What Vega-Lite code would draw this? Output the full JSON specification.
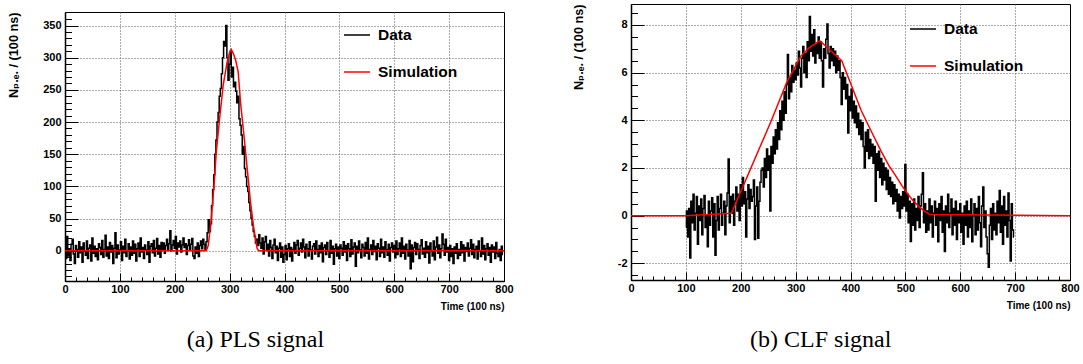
{
  "$schema": "https://vega.github.io/schema/vega-lite/v6.json",
  "background": "white",
  "padding": {"left": 7, "top": 3, "right": 0, "bottom": 0},
  "spacing": 57,
  "config": {
    "view": {"stroke": "black", "strokeWidth": 1},
    "axis": {
      "labelFont": "Liberation Sans", "labelFontSize": 11, "labelFontWeight": "bold", "labelColor": "black",
      "labelFlush": false, "labelOverlap": false, "tickCount": 1000,
      "tickColor": "black", "tickWidth": 1,
      "domainColor": "black", "domainWidth": 1.5,
      "gridColor": "#555555", "gridDash": [1, 2], "gridWidth": 1,
      "titleFont": "Liberation Sans, DejaVu Sans", "titleFontWeight": "bold", "titleColor": "black"
    },
    "legend": {
      "orient": "none", "title": null, "symbolType": "stroke", "symbolSize": 676, "symbolStrokeWidth": 1.5,
      "labelFont": "Liberation Sans", "labelFontSize": 15.5, "labelFontWeight": "bold", "labelColor": "black",
      "labelOffset": 7, "rowPadding": 14, "padding": 0
    },
    "title": {"font": "Liberation Serif", "fontSize": 24, "fontWeight": "normal", "color": "black", "orient": "bottom", "anchor": "middle", "frame": "bounds", "offset": 17, "dx": -5}
  },
  "resolve": {"scale": {"color": "independent"}, "legend": {"color": "independent"}},
  "datasets": {
    "pls_data": [
      {"t":0,"n":5},{"t":2,"n":-12},{"t":4,"n":22},{"t":6,"n":-8},{"t":8,"n":3},{"t":10,"n":-15},{"t":12,"n":10},{"t":14,"n":18},{"t":16,"n":-5},{"t":18,"n":-20},
      {"t":20,"n":8},{"t":22,"n":2},{"t":24,"n":-10},{"t":26,"n":14},{"t":28,"n":-3},{"t":30,"n":6},{"t":32,"n":-18},{"t":34,"n":12},{"t":36,"n":0},{"t":38,"n":-7},
      {"t":40,"n":15},{"t":42,"n":-12},{"t":44,"n":4},{"t":46,"n":9},{"t":48,"n":-16},{"t":50,"n":20},{"t":52,"n":-4},{"t":54,"n":7},{"t":56,"n":-9},{"t":58,"n":3},
      {"t":60,"n":-14},{"t":62,"n":11},{"t":64,"n":5},{"t":66,"n":-6},{"t":68,"n":16},{"t":70,"n":-10},{"t":72,"n":2},{"t":74,"n":24},{"t":76,"n":-8},{"t":78,"n":6},
      {"t":80,"n":-12},{"t":82,"n":13},{"t":84,"n":-2},{"t":86,"n":8},{"t":88,"n":-20},{"t":90,"n":4},{"t":92,"n":28},{"t":94,"n":-11},{"t":96,"n":9},{"t":98,"n":-5},
      {"t":100,"n":1},{"t":102,"n":14},{"t":104,"n":-15},{"t":106,"n":7},{"t":108,"n":-3},{"t":110,"n":18},{"t":112,"n":-9},{"t":114,"n":0},{"t":116,"n":11},{"t":118,"n":-13},
      {"t":120,"n":6},{"t":122,"n":-7},{"t":124,"n":15},{"t":126,"n":-4},{"t":128,"n":10},{"t":130,"n":-16},{"t":132,"n":3},{"t":134,"n":12},{"t":136,"n":-9},{"t":138,"n":20},
      {"t":140,"n":-2},{"t":142,"n":5},{"t":144,"n":-12},{"t":146,"n":9},{"t":148,"n":1},{"t":150,"n":-6},{"t":152,"n":14},{"t":154,"n":-18},{"t":156,"n":7},{"t":158,"n":11},
      {"t":160,"n":-3},{"t":162,"n":16},{"t":164,"n":-8},{"t":166,"n":4},{"t":168,"n":19},{"t":170,"n":-5},{"t":172,"n":8},{"t":174,"n":-10},{"t":176,"n":13},{"t":178,"n":2},
      {"t":180,"n":12},{"t":182,"n":-4},{"t":184,"n":8},{"t":186,"n":18},{"t":188,"n":2},{"t":190,"n":11},{"t":192,"n":31},{"t":194,"n":0},{"t":196,"n":9},{"t":198,"n":16},
      {"t":200,"n":4},{"t":202,"n":22},{"t":204,"n":-5},{"t":206,"n":12},{"t":208,"n":6},{"t":210,"n":15},{"t":212,"n":-2},{"t":214,"n":9},{"t":216,"n":20},{"t":218,"n":5},
      {"t":220,"n":11},{"t":222,"n":-6},{"t":224,"n":8},{"t":226,"n":17},{"t":228,"n":2},{"t":230,"n":10},{"t":232,"n":19},{"t":234,"n":-8},{"t":236,"n":-12},{"t":238,"n":6},
      {"t":240,"n":-4},{"t":242,"n":12},{"t":244,"n":-9},{"t":246,"n":8},{"t":248,"n":15},{"t":250,"n":3},{"t":252,"n":18},{"t":254,"n":10},{"t":256,"n":2},{"t":258,"n":14},
      {"t":260,"n":28},{"t":262,"n":48},{"t":264,"n":30},{"t":266,"n":42},{"t":268,"n":70},{"t":270,"n":95},{"t":272,"n":118},{"t":274,"n":150},{"t":276,"n":172},{"t":278,"n":200},
      {"t":280,"n":215},{"t":282,"n":240},{"t":284,"n":252},{"t":286,"n":275},{"t":288,"n":300},{"t":290,"n":325},{"t":292,"n":318},{"t":294,"n":350},{"t":296,"n":300},{"t":298,"n":265},
      {"t":300,"n":290},{"t":302,"n":310},{"t":304,"n":270},{"t":306,"n":285},{"t":308,"n":255},{"t":310,"n":262},{"t":312,"n":248},{"t":314,"n":230},{"t":316,"n":240},{"t":318,"n":205},
      {"t":320,"n":195},{"t":322,"n":180},{"t":324,"n":150},{"t":326,"n":162},{"t":328,"n":128},{"t":330,"n":115},{"t":332,"n":100},{"t":334,"n":92},{"t":336,"n":75},{"t":338,"n":62},
      {"t":340,"n":50},{"t":342,"n":40},{"t":344,"n":30},{"t":346,"n":22},{"t":348,"n":12},{"t":350,"n":18},{"t":352,"n":8},{"t":354,"n":25},{"t":356,"n":12},{"t":358,"n":4},
      {"t":360,"n":20},{"t":362,"n":-5},{"t":364,"n":14},{"t":366,"n":22},{"t":368,"n":2},{"t":370,"n":10},{"t":372,"n":-8},{"t":374,"n":16},{"t":376,"n":5},{"t":378,"n":-12},
      {"t":380,"n":9},{"t":382,"n":18},{"t":384,"n":-3},{"t":386,"n":7},{"t":388,"n":-15},{"t":390,"n":4},{"t":392,"n":12},{"t":394,"n":-10},{"t":396,"n":6},{"t":398,"n":-18},
      {"t":400,"n":-6},{"t":402,"n":8},{"t":404,"n":-14},{"t":406,"n":3},{"t":408,"n":11},{"t":410,"n":-9},{"t":412,"n":5},{"t":414,"n":-16},{"t":416,"n":2},{"t":418,"n":13},
      {"t":420,"n":-4},{"t":422,"n":9},{"t":424,"n":16},{"t":426,"n":-7},{"t":428,"n":4},{"t":430,"n":12},{"t":432,"n":-2},{"t":434,"n":18},{"t":436,"n":6},{"t":438,"n":-11},
      {"t":440,"n":10},{"t":442,"n":3},{"t":444,"n":-8},{"t":446,"n":14},{"t":448,"n":1},{"t":450,"n":-13},{"t":452,"n":7},{"t":454,"n":11},{"t":456,"n":-5},{"t":458,"n":15},
      {"t":460,"n":2},{"t":462,"n":-9},{"t":464,"n":8},{"t":466,"n":-3},{"t":468,"n":12},{"t":470,"n":-17},{"t":472,"n":5},{"t":474,"n":9},{"t":476,"n":-6},{"t":478,"n":13},
      {"t":480,"n":0},{"t":482,"n":-10},{"t":484,"n":16},{"t":486,"n":-4},{"t":488,"n":7},{"t":490,"n":-21},{"t":492,"n":3},{"t":494,"n":10},{"t":496,"n":-8},{"t":498,"n":6},
      {"t":500,"n":-12},{"t":502,"n":9},{"t":504,"n":4},{"t":506,"n":-7},{"t":508,"n":14},{"t":510,"n":-2},{"t":512,"n":8},{"t":514,"n":-15},{"t":516,"n":11},{"t":518,"n":3},
      {"t":520,"n":-9},{"t":522,"n":17},{"t":524,"n":-5},{"t":526,"n":6},{"t":528,"n":12},{"t":530,"n":-24},{"t":532,"n":7},{"t":534,"n":-3},{"t":536,"n":15},{"t":538,"n":1},
      {"t":540,"n":-11},{"t":542,"n":10},{"t":544,"n":5},{"t":546,"n":-8},{"t":548,"n":13},{"t":550,"n":-4},{"t":552,"n":20},{"t":554,"n":-13},{"t":556,"n":2},{"t":558,"n":9},
      {"t":560,"n":-6},{"t":562,"n":16},{"t":564,"n":-1},{"t":566,"n":7},{"t":568,"n":-14},{"t":570,"n":11},{"t":572,"n":4},{"t":574,"n":-9},{"t":576,"n":18},{"t":578,"n":-3},
      {"t":580,"n":6},{"t":582,"n":-10},{"t":584,"n":14},{"t":586,"n":2},{"t":588,"n":-7},{"t":590,"n":10},{"t":592,"n":-16},{"t":594,"n":5},{"t":596,"n":12},{"t":598,"n":-2},
      {"t":600,"n":8},{"t":602,"n":-11},{"t":604,"n":15},{"t":606,"n":-6},{"t":608,"n":3},{"t":610,"n":12},{"t":612,"n":-9},{"t":614,"n":20},{"t":616,"n":-4},{"t":618,"n":7},
      {"t":620,"n":-13},{"t":622,"n":10},{"t":624,"n":1},{"t":626,"n":-8},{"t":628,"n":16},{"t":630,"n":-28},{"t":632,"n":9},{"t":634,"n":-17},{"t":636,"n":5},{"t":638,"n":13},
      {"t":640,"n":-6},{"t":642,"n":11},{"t":644,"n":2},{"t":646,"n":-12},{"t":648,"n":8},{"t":650,"n":17},{"t":652,"n":-5},{"t":654,"n":4},{"t":656,"n":-10},{"t":658,"n":14},
      {"t":660,"n":-3},{"t":662,"n":7},{"t":664,"n":-19},{"t":666,"n":12},{"t":668,"n":0},{"t":670,"n":-8},{"t":672,"n":15},{"t":674,"n":-14},{"t":676,"n":6},{"t":678,"n":21},
      {"t":680,"n":-4},{"t":682,"n":9},{"t":684,"n":-11},{"t":686,"n":3},{"t":688,"n":26},{"t":690,"n":10},{"t":692,"n":-7},{"t":694,"n":18},{"t":696,"n":-2},{"t":698,"n":5},
      {"t":700,"n":-15},{"t":702,"n":8},{"t":704,"n":-9},{"t":706,"n":3},{"t":708,"n":-20},{"t":710,"n":6},{"t":712,"n":-4},{"t":714,"n":11},{"t":716,"n":-12},{"t":718,"n":2},
      {"t":720,"n":-7},{"t":722,"n":14},{"t":724,"n":-3},{"t":726,"n":9},{"t":728,"n":-16},{"t":730,"n":5},{"t":732,"n":-1},{"t":734,"n":12},{"t":736,"n":-8},{"t":738,"n":4},
      {"t":740,"n":17},{"t":742,"n":-6},{"t":744,"n":10},{"t":746,"n":-11},{"t":748,"n":2},{"t":750,"n":7},{"t":752,"n":-13},{"t":754,"n":15},{"t":756,"n":0},{"t":758,"n":-9},
      {"t":760,"n":20},{"t":762,"n":-5},{"t":764,"n":8},{"t":766,"n":-14},{"t":768,"n":3},{"t":770,"n":11},{"t":772,"n":-7},{"t":774,"n":5},{"t":776,"n":-18},{"t":778,"n":9},
      {"t":780,"n":-2},{"t":782,"n":6},{"t":784,"n":-12},{"t":786,"n":13},{"t":788,"n":-4},{"t":790,"n":-9},{"t":792,"n":2},{"t":794,"n":-15},{"t":796,"n":7},{"t":798,"n":-6}
    ],
    "pls_sim": [
      {"t":0,"n":0},{"t":256,"n":0},{"t":258,"n":1},{"t":261,"n":8},{"t":264,"n":30},{"t":266.6,"n":50},{"t":271.5,"n":101},{"t":275.7,"n":154},{"t":281.8,"n":206},{"t":288.4,"n":258},
      {"t":295.6,"n":294},{"t":300,"n":308},{"t":303,"n":313},{"t":307,"n":306},{"t":311,"n":296},{"t":315.6,"n":278},{"t":319.8,"n":231},{"t":326,"n":180},{"t":332,"n":128},{"t":338,"n":76},
      {"t":344,"n":35},{"t":350,"n":4},{"t":353,"n":0},{"t":800,"n":0}
    ],
    "clf_data": [
      {"t":100,"n":-0.5},{"t":102,"n":0.2},{"t":104,"n":-0.9},{"t":106,"n":0.3},{"t":108,"n":-1.78},{"t":110,"n":0.6},{"t":112,"n":-0.3},{"t":114,"n":0.9},{"t":116,"n":-0.6},{"t":118,"n":0.1},
      {"t":120,"n":0.8},{"t":122,"n":-1.2},{"t":124,"n":0.4},{"t":126,"n":-0.2},{"t":128,"n":0.7},{"t":130,"n":-0.8},{"t":132,"n":0.3},{"t":134,"n":0.85},{"t":136,"n":-0.5},{"t":138,"n":0.0},
      {"t":140,"n":-1.3},{"t":142,"n":0.6},{"t":144,"n":-0.4},{"t":146,"n":0.2},{"t":148,"n":0.75},{"t":150,"n":-0.9},{"t":152,"n":0.5},{"t":154,"n":-1.66},{"t":156,"n":-0.2},{"t":158,"n":0.8},
      {"t":160,"n":-0.6},{"t":162,"n":0.3},{"t":164,"n":0.9},{"t":166,"n":-0.4},{"t":168,"n":0.1},{"t":170,"n":0.6},{"t":172,"n":-0.8},{"t":174,"n":0.4},{"t":176,"n":0.95},{"t":178,"n":2.38},
      {"t":180,"n":-0.3},{"t":182,"n":0.8},{"t":184,"n":0.1},{"t":186,"n":0.9},{"t":188,"n":-0.4},{"t":190,"n":0.6},{"t":192,"n":1.2},{"t":194,"n":0.2},{"t":196,"n":0.9},{"t":198,"n":-0.2},
      {"t":200,"n":1.3},{"t":202,"n":0.4},{"t":204,"n":1.6},{"t":206,"n":0.5},{"t":208,"n":1.0},{"t":210,"n":-0.9},{"t":212,"n":0.7},{"t":214,"n":1.3},{"t":216,"n":0.3},{"t":218,"n":1.1},
      {"t":220,"n":0.6},{"t":222,"n":0.8},{"t":224,"n":1.5},{"t":226,"n":-1.0},{"t":228,"n":0.4},{"t":230,"n":1.2},{"t":232,"n":-0.95},{"t":234,"n":0.6},{"t":236,"n":1.4},{"t":238,"n":1.9},
      {"t":240,"n":2.0},{"t":242,"n":1.2},{"t":244,"n":2.4},{"t":246,"n":1.6},{"t":248,"n":2.8},{"t":250,"n":1.9},{"t":252,"n":2.5},{"t":254,"n":0.2},{"t":256,"n":2.9},{"t":258,"n":2.2},
      {"t":260,"n":3.3},{"t":262,"n":2.6},{"t":264,"n":3.6},{"t":266,"n":2.8},{"t":268,"n":3.9},{"t":270,"n":3.2},{"t":272,"n":4.4},{"t":274,"n":3.6},{"t":276,"n":4.8},{"t":278,"n":4.0},
      {"t":280,"n":5.2},{"t":282,"n":4.3},{"t":284,"n":5.5},{"t":286,"n":6.76},{"t":288,"n":4.9},{"t":290,"n":5.8},{"t":292,"n":5.2},{"t":294,"n":6.3},{"t":296,"n":5.6},{"t":298,"n":6.1},
      {"t":300,"n":5.7},{"t":302,"n":6.4},{"t":304,"n":5.9},{"t":306,"n":6.9},{"t":308,"n":6.2},{"t":310,"n":5.4},{"t":312,"n":6.6},{"t":314,"n":7.1},{"t":316,"n":6.0},{"t":318,"n":6.8},
      {"t":320,"n":5.8},{"t":322,"n":7.3},{"t":324,"n":6.5},{"t":326,"n":8.36},{"t":328,"n":6.9},{"t":330,"n":7.6},{"t":332,"n":6.7},{"t":334,"n":7.8},{"t":336,"n":6.4},{"t":338,"n":7.2},
      {"t":340,"n":6.8},{"t":342,"n":7.5},{"t":344,"n":6.6},{"t":346,"n":7.3},{"t":348,"n":6.5},{"t":350,"n":5.4},{"t":352,"n":7.0},{"t":354,"n":6.6},{"t":356,"n":7.4},{"t":358,"n":8.04},
      {"t":360,"n":6.8},{"t":362,"n":6.2},{"t":364,"n":7.1},{"t":366,"n":6.5},{"t":368,"n":7.0},{"t":370,"n":6.3},{"t":372,"n":6.9},{"t":374,"n":6.0},{"t":376,"n":6.7},{"t":378,"n":6.1},
      {"t":380,"n":6.5},{"t":382,"n":5.8},{"t":384,"n":4.66},{"t":386,"n":6.0},{"t":388,"n":5.3},{"t":390,"n":5.8},{"t":392,"n":4.9},{"t":394,"n":5.5},{"t":396,"n":3.47},{"t":398,"n":5.0},
      {"t":400,"n":4.4},{"t":402,"n":5.3},{"t":404,"n":4.1},{"t":406,"n":4.8},{"t":408,"n":3.9},{"t":410,"n":4.6},{"t":412,"n":3.7},{"t":414,"n":4.3},{"t":416,"n":3.4},{"t":418,"n":4.0},
      {"t":420,"n":3.2},{"t":422,"n":3.9},{"t":424,"n":2.9},{"t":426,"n":2.0},{"t":428,"n":3.5},{"t":430,"n":2.7},{"t":432,"n":3.6},{"t":434,"n":2.4},{"t":436,"n":3.2},{"t":438,"n":2.5},
      {"t":440,"n":3.0},{"t":442,"n":2.2},{"t":444,"n":2.9},{"t":446,"n":0.6},{"t":448,"n":2.6},{"t":450,"n":1.9},{"t":452,"n":2.7},{"t":454,"n":1.6},{"t":456,"n":2.4},{"t":458,"n":1.3},
      {"t":460,"n":2.2},{"t":462,"n":1.5},{"t":464,"n":2.0},{"t":466,"n":1.1},{"t":468,"n":1.9},{"t":470,"n":0.9},{"t":472,"n":1.6},{"t":474,"n":0.8},{"t":476,"n":1.4},{"t":478,"n":0.5},
      {"t":480,"n":1.3},{"t":482,"n":0.6},{"t":484,"n":1.1},{"t":486,"n":0.2},{"t":488,"n":0.9},{"t":490,"n":-0.1},{"t":492,"n":0.8},{"t":494,"n":0.3},{"t":496,"n":1.0},{"t":498,"n":0.4},
      {"t":500,"n":2.15},{"t":502,"n":0.2},{"t":504,"n":0.9},{"t":506,"n":-0.3},{"t":508,"n":0.6},{"t":510,"n":-1.08},{"t":512,"n":0.5},{"t":514,"n":-0.4},{"t":516,"n":0.7},{"t":518,"n":-0.6},
      {"t":520,"n":0.3},{"t":522,"n":-0.2},{"t":524,"n":0.8},{"t":526,"n":-0.5},{"t":528,"n":0.4},{"t":530,"n":0.9},{"t":532,"n":1.8},{"t":534,"n":-0.3},{"t":536,"n":0.5},{"t":538,"n":-0.7},
      {"t":540,"n":0.2},{"t":542,"n":-0.6},{"t":544,"n":0.7},{"t":546,"n":-0.3},{"t":548,"n":0.4},{"t":550,"n":-0.9},{"t":552,"n":0.1},{"t":554,"n":0.6},{"t":556,"n":-0.4},{"t":558,"n":0.3},
      {"t":560,"n":-1.1},{"t":562,"n":0.5},{"t":564,"n":-0.2},{"t":566,"n":0.8},{"t":568,"n":-0.7},{"t":570,"n":0.2},{"t":572,"n":-1.5},{"t":574,"n":0.4},{"t":576,"n":-0.3},{"t":578,"n":0.9},
      {"t":580,"n":-0.5},{"t":582,"n":0.1},{"t":584,"n":0.7},{"t":586,"n":-0.8},{"t":588,"n":0.3},{"t":590,"n":-0.4},{"t":592,"n":0.6},{"t":594,"n":-1.0},{"t":596,"n":0.2},{"t":598,"n":-0.3},
      {"t":600,"n":0.5},{"t":602,"n":-0.7},{"t":604,"n":0.1},{"t":606,"n":-1.2},{"t":608,"n":0.4},{"t":610,"n":-0.4},{"t":612,"n":0.6},{"t":614,"n":-0.9},{"t":616,"n":0.2},{"t":618,"n":-0.5},
      {"t":620,"n":0.7},{"t":622,"n":-1.1},{"t":624,"n":0.0},{"t":626,"n":0.5},{"t":628,"n":-0.8},{"t":630,"n":0.3},{"t":632,"n":-0.6},{"t":634,"n":0.8},{"t":636,"n":-0.3},{"t":638,"n":-1.3},
      {"t":640,"n":0.4},{"t":642,"n":1.2},{"t":644,"n":-0.5},{"t":646,"n":0.2},{"t":648,"n":-0.9},{"t":650,"n":-1.6},{"t":652,"n":-2.17},{"t":654,"n":-0.4},{"t":656,"n":0.3},{"t":658,"n":-1.0},
      {"t":660,"n":0.5},{"t":662,"n":-0.6},{"t":664,"n":0.1},{"t":666,"n":-0.8},{"t":668,"n":0.6},{"t":670,"n":-0.3},{"t":672,"n":1.05},{"t":674,"n":-0.7},{"t":676,"n":0.4},{"t":678,"n":-1.2},
      {"t":680,"n":0.8},{"t":682,"n":-0.4},{"t":684,"n":0.2},{"t":686,"n":-0.9},{"t":688,"n":0.95},{"t":690,"n":-0.2},{"t":692,"n":-1.9},{"t":694,"n":0.5},{"t":696,"n":-0.6},{"t":698,"n":-0.9}
    ],
    "clf_sim": [
      {"t":0,"n":0},{"t":100,"n":0},{"t":183,"n":0.1},{"t":256,"n":4.0},{"t":284,"n":5.6},{"t":298,"n":6.2},{"t":310,"n":6.7},{"t":325,"n":7.05},{"t":344,"n":7.34},{"t":365,"n":6.9},
      {"t":384,"n":6.5},{"t":401,"n":5.5},{"t":419.5,"n":4.41},{"t":437.8,"n":3.54},{"t":456,"n":2.7},{"t":470,"n":2.1},{"t":481,"n":1.72},{"t":494,"n":1.25},{"t":505,"n":0.89},{"t":515,"n":0.6},
      {"t":524,"n":0.4},{"t":535,"n":0.18},{"t":545,"n":0.05},{"t":800,"n":0}
    ]
  },
  "hconcat": [
    {
      "spacing": 6,
      "resolve": {"scale": {"color": "independent"}, "legend": {"color": "independent"}},
      "vconcat": [
        {
          "width": 439,
          "height": 1,
          "view": {"stroke": null},
          "data": {"values": []},
          "mark": {"type": "point", "opacity": 0}
        },
        {
          "width": 439,
          "height": 269,
          "title": {"text": "(a) PLS signal"},
          "layer": [
            {
              "data": {"name": "pls_data"},
              "mark": {"type": "line", "interpolate": "step", "strokeWidth": 1.5, "clip": true},
              "encoding": {
                "x": {
                  "field": "t", "type": "quantitative",
                  "scale": {"domain": [0, 800], "nice": false, "zero": false},
                  "axis": {
                    "title": "Time (100 ns)", "titleAnchor": "end", "titleAlign": "right", "titleFontSize": 10, "titlePadding": 3,
                    "values": [0,20,40,60,80,100,120,140,160,180,200,220,240,260,280,300,320,340,360,380,400,420,440,460,480,500,520,540,560,580,600,620,640,660,680,700,720,740,760,780,800],
                    "labelExpr": "datum.value % 100 === 0 ? '' + datum.value : ''",
                    "labelPadding": 10,
                    "tickSize": {"condition": {"test": "datum.value % 100 === 0", "value": -8}, "value": -4},
                    "grid": true,
                    "gridOpacity": {"condition": {"test": "datum.value % 100 === 0 && datum.value > 0 && datum.value < 800", "value": 1}, "value": 0}
                  }
                },
                "y": {
                  "field": "n", "type": "quantitative",
                  "scale": {"domain": [-47, 371], "nice": false, "zero": false},
                  "axis": {
                    "title": "Nₚ.ₑ. / (100 ns)", "titleAnchor": "end", "titleFontSize": 12.7, "titlePadding": 22,
                    "values": [-40,-30,-20,-10,0,10,20,30,40,50,60,70,80,90,100,110,120,130,140,150,160,170,180,190,200,210,220,230,240,250,260,270,280,290,300,310,320,330,340,350,360],
                    "labelExpr": "datum.value % 50 === 0 ? '' + datum.value : ''",
                    "labelPadding": 17,
                    "tickSize": {"condition": {"test": "datum.value % 50 === 0", "value": -13}, "value": -6.5},
                    "grid": true,
                    "gridOpacity": {"condition": {"test": "datum.value % 50 === 0", "value": 1}, "value": 0}
                  }
                },
                "color": {
                  "datum": "Data", "type": "nominal",
                  "scale": {"domain": ["Data", "Simulation"], "range": ["#000000", "#ff0000"]},
                  "legend": {"legendX": 278, "legendY": 9}
                }
              }
            },
            {
              "data": {"name": "pls_sim"},
              "mark": {"type": "line", "strokeWidth": 1.5, "clip": true},
              "encoding": {
                "x": {"field": "t", "type": "quantitative"},
                "y": {"field": "n", "type": "quantitative"},
                "color": {"datum": "Simulation", "type": "nominal"}
              }
            }
          ]
        }
      ]
    },
    {
      "width": 439,
      "height": 276,
      "title": {"text": "(b) CLF signal", "offset": 18},
      "layer": [
        {
          "data": {"name": "clf_data"},
          "mark": {"type": "line", "interpolate": "step", "strokeWidth": 1.5, "clip": true},
          "encoding": {
            "x": {
              "field": "t", "type": "quantitative",
              "scale": {"domain": [0, 800], "nice": false, "zero": false},
              "axis": {
                "title": "Time (100 ns)", "titleAnchor": "end", "titleAlign": "right", "titleFontSize": 10, "titlePadding": 3,
                "values": [0,20,40,60,80,100,120,140,160,180,200,220,240,260,280,300,320,340,360,380,400,420,440,460,480,500,520,540,560,580,600,620,640,660,680,700,720,740,760,780,800],
                "labelExpr": "datum.value % 100 === 0 ? '' + datum.value : ''",
                "labelPadding": 10,
                "tickSize": {"condition": {"test": "datum.value % 100 === 0", "value": -8}, "value": -4},
                "grid": true,
                "gridOpacity": {"condition": {"test": "datum.value % 100 === 0 && datum.value > 0 && datum.value < 800", "value": 1}, "value": 0}
              }
            },
            "y": {
              "field": "n", "type": "quantitative",
              "scale": {"domain": [-2.7, 8.88], "nice": false, "zero": false},
              "axis": {
                "title": "Nₚ.ₑ. / (100 ns)", "titleAnchor": "end", "titleFontSize": 12.7, "titlePadding": 32,
                "values": [-2.5,-2,-1.5,-1,-0.5,0,0.5,1,1.5,2,2.5,3,3.5,4,4.5,5,5.5,6,6.5,7,7.5,8,8.5],
                "labelExpr": "datum.value % 2 === 0 ? '' + datum.value : ''",
                "labelPadding": 17,
                "tickSize": {"condition": {"test": "datum.value % 2 === 0", "value": -13}, "value": -6.5},
                "grid": true,
                "gridOpacity": {"condition": {"test": "datum.value % 2 === 0", "value": 1}, "value": 0}
              }
            },
            "color": {
              "datum": "Data", "type": "nominal",
              "scale": {"domain": ["Data", "Simulation"], "range": ["#000000", "#ff0000"]},
              "legend": {"legendX": 278, "legendY": 11}
            }
          }
        },
        {
          "data": {"name": "clf_sim"},
          "mark": {"type": "line", "strokeWidth": 1.5, "clip": true},
          "encoding": {
            "x": {"field": "t", "type": "quantitative"},
            "y": {"field": "n", "type": "quantitative"},
            "color": {"datum": "Simulation", "type": "nominal"}
          }
        }
      ]
    }
  ]
}
